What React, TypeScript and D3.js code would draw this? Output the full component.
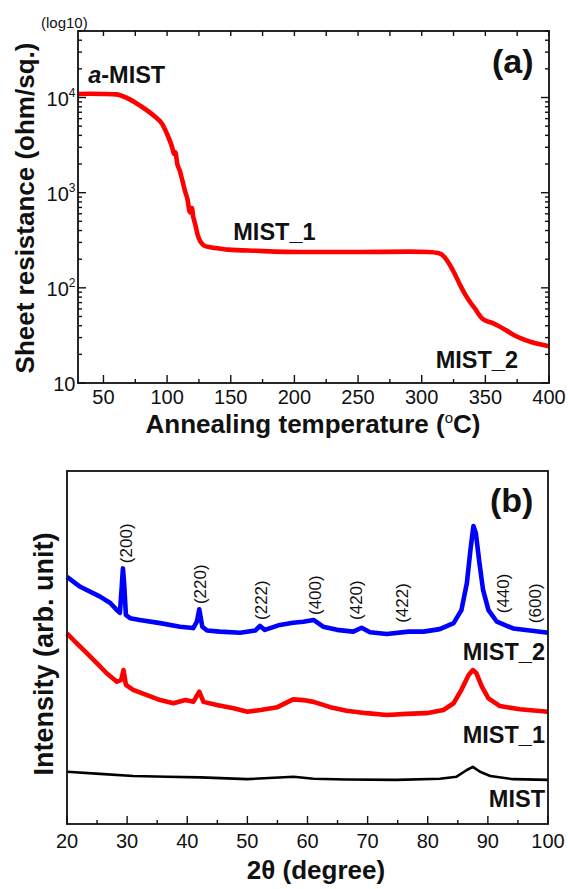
import React from "react";
import * as d3 from "d3";

const FONT = "'Liberation Sans', Arial, Helvetica, sans-serif";

// (a) sheet resistance vs annealing temperature
const tempC = [30, 40, 50, 60, 68.6, 79, 89.6, 96.2, 100, 104, 105.5, 106.5, 108, 110, 112, 114, 116, 118, 119.5, 120.5, 122, 124, 126, 128.8, 133, 137, 148, 170, 205, 250, 290, 305, 313, 318, 322, 326, 330, 334, 338, 342, 348, 355, 360, 366, 373, 386, 400];
const sheetRes = [10900, 10950, 10900, 10800, 9860, 8180, 6430, 5250, 4130, 2990, 2550, 2650, 2000, 1700, 1340, 1050, 850, 620, 690, 560, 470, 360, 310, 280, 268, 263, 252, 245, 238, 238, 240, 238, 232, 210, 175, 140, 108, 86, 71, 60, 47, 43, 40, 36, 31.6, 27, 24.4];
const tempTicks = [50, 100, 150, 200, 250, 300, 350, 400];
const resLabels = [
  { text: "a-MIST", t: 38, r: 14300 },
  { text: "MIST_1", t: 152, r: 318 },
  { text: "MIST_2", t: 311, r: 14.3 },
];

// (b) XRD patterns
const mist2Angle = [20, 22.2, 25.5, 27.2, 28.3, 28.8, 29.1, 29.3, 29.5, 29.8, 30.5, 32.1, 35.5, 38.8, 41, 41.6, 42, 42.5, 43.3, 45.4, 48.8, 51.3, 52.1, 52.9, 55.4, 57.6, 59.3, 61, 62.6, 64.9, 67.6, 69, 70.4, 73.2, 76.8, 79.3, 82, 84.3, 85.6, 86.5, 87.1, 87.6, 88, 88.6, 89.2, 90.1, 91.5, 94.2, 97, 100];
const mist2Intensity = [70.0, 67.2, 64.4, 62.6, 60.6, 59.8, 67.2, 72.4, 68.2, 59.2, 58.3, 57.8, 56.9, 55.9, 55.5, 57.3, 60.8, 55.9, 54.8, 54.5, 54.2, 54.8, 56.1, 55.0, 56.4, 57.0, 57.3, 57.8, 55.9, 55.0, 54.5, 55.6, 54.3, 53.8, 54.5, 54.5, 55.2, 56.9, 60.6, 68.2, 77.6, 84.4, 82.4, 73.9, 66.3, 60.6, 57.3, 55.4, 54.8, 54.2];

const mist1Angle = [20, 21.6, 23.3, 25, 26.6, 28.3, 29, 29.4, 29.8, 31, 33.3, 35.5, 37.7, 39.7, 41, 42, 42.7, 44.9, 47.7, 50, 52.2, 55, 57.6, 59.3, 61, 63.8, 66.5, 69.8, 73.2, 76.5, 79.8, 82.6, 84.3, 85.6, 86.8, 87.5, 88.1, 89, 90.1, 92, 95.3, 100];
const mist1Intensity = [54.0, 51.2, 48.4, 45.5, 42.7, 40.3, 40.8, 43.6, 39.4, 38.0, 36.5, 35.1, 34.2, 35.1, 34.6, 37.5, 34.6, 33.7, 32.8, 31.8, 32.3, 33.1, 35.3, 35.1, 34.6, 33.1, 32.1, 31.4, 30.9, 31.2, 31.4, 32.3, 34.2, 38.0, 42.2, 43.6, 42.7, 38.9, 35.6, 33.4, 32.5, 31.8];

const mistAngle = [20, 25.5, 31, 36.6, 42.2, 50, 57.7, 61, 66.5, 74.8, 82, 84.8, 86.5, 87.5, 88.7, 90.4, 94.2, 100];
const mistIntensity = [14.8, 14.2, 13.6, 13.4, 13.2, 12.7, 13.4, 12.8, 12.6, 12.5, 12.8, 13.4, 15.3, 16.2, 14.8, 13.6, 12.7, 12.5];

const angleTicks = [20, 30, 40, 50, 60, 70, 80, 90, 100];
const peakNames = ["(200)", "(220)", "(222)", "(400)", "(420)", "(422)", "(440)", "(600)"];
const peakAngles = [29.8, 42.2, 52.3, 61.2, 68.0, 75.8, 92.5, 97.9];
const peakLevels = [73.9, 62.3, 57.8, 59.2, 57.8, 57.0, 59.7, 56.9];

const sampleNames = ["MIST_2", "MIST_1", "MIST"];
const sampleLabelLevels = [46.5, 22.9, 4.9];

const zip = (xs: number[], ys: number[]) => xs.map((x, i) => [x, ys[i]] as [number, number]);

export default function App() {
  // panel (a)
  const xA = d3.scaleLinear().domain([30, 400]).range([78, 549]);
  const yA = d3.scaleLog().domain([10, 50000]).range([383, 31]);
  const lineA = d3
    .line<[number, number]>()
    .x((d) => xA(d[0]))
    .y((d) => yA(d[1]))
    .curve(d3.curveMonotoneX);
  const logTicks = yA.ticks();
  const isMajor = (v: number) => Math.abs(Math.log10(v) - Math.round(Math.log10(v))) < 1e-6;
  const minorTemps = d3.range(75, 400, 50);
  const topTemps = d3.range(50, 401, 25);

  // panel (b)
  const xB = d3.scaleLinear().domain([20, 100]).range([67, 548]);
  const yB = d3.scaleLinear().domain([0, 100]).range([824, 471]);
  const lineB = d3
    .line<[number, number]>()
    .x((d) => xB(d[0]))
    .y((d) => yB(d[1]));
  const minorAngles = d3.range(25, 100, 10);

  const series = [
    { data: zip(mist2Angle, mist2Intensity), color: "#0000ff", w: 4.6 },
    { data: zip(mist1Angle, mist1Intensity), color: "#ff0000", w: 4.6 },
    { data: zip(mistAngle, mistIntensity), color: "#000000", w: 2.6 },
  ];

  const ink = "#111";

  return (
    <svg
      width={568}
      height={889}
      style={{ position: "absolute", left: 0, top: 0, background: "#fff" }}
      fontFamily={FONT}
    >
      <rect width={568} height={889} fill="#fff" />

      {/* ---------- (a) ---------- */}
      <path d={lineA(zip(tempC, sheetRes)) || ""} fill="none" stroke="#ff0000" strokeWidth={4.6} strokeLinejoin="round" />

      {/* left / right log ticks */}
      {logTicks.map((v, i) => {
        const y = yA(v);
        const len = isMajor(v) ? 8 : 4;
        return (
          <g key={"lt" + i} stroke={ink} strokeWidth={1.4}>
            <line x1={78} x2={78 + len} y1={y} y2={y} />
            <line x1={549} x2={549 - len} y1={y} y2={y} />
          </g>
        );
      })}
      {/* bottom / top ticks */}
      {tempTicks.map((t) => (
        <line key={"bt" + t} x1={xA(t)} x2={xA(t)} y1={383} y2={375} stroke={ink} strokeWidth={1.4} />
      ))}
      {minorTemps.map((t) => (
        <line key={"bm" + t} x1={xA(t)} x2={xA(t)} y1={383} y2={379} stroke={ink} strokeWidth={1.4} />
      ))}
      {topTemps.map((t) => (
        <line key={"tt" + t} x1={xA(t)} x2={xA(t)} y1={31} y2={36} stroke={ink} strokeWidth={1.4} />
      ))}
      <rect x={78} y={31} width={471} height={352} fill="none" stroke={ink} strokeWidth={1.8} />

      {tempTicks.map((t) => (
        <text key={"tl" + t} x={xA(t)} y={404} textAnchor="middle" fontSize={20} fill={ink}>
          {t}
        </text>
      ))}
      {[1, 2, 3, 4].map((e) => (
        <text key={"yl" + e} x={75.5} y={yA(Math.pow(10, e)) + 8} textAnchor="end" fontSize={20} fill={ink}>
          10
          {e > 1 && (
            <tspan dy={-9} fontSize={12}>
              {e}
            </tspan>
          )}
        </text>
      ))}
      <text x={41} y={28} fontSize={15} fill={ink}>
        (log10)
      </text>
      <text x={313} y={433} textAnchor="middle" fontSize={26} fontWeight="bold" fill={ink}>
        Annealing temperature (
        <tspan dy={-10} fontSize={15} fontWeight="normal">o</tspan>
        <tspan dy={10}>C)</tspan>
      </text>
      <text transform="translate(34,208) rotate(-90)" textAnchor="middle" fontSize={26} fontWeight="bold" fill={ink}>
        Sheet resistance (ohm/sq.)
      </text>
      <text x={492} y={73} fontSize={34} fontWeight="bold" fill={ink}>
        (a)
      </text>
      {resLabels.map((l) => (
        <text key={l.text} x={xA(l.t)} y={yA(l.r)} fontSize={23.5} fontWeight="bold" fill={ink}>
          {l.text.startsWith("a-") ? (
            <>
              <tspan fontStyle="italic">a</tspan>
              {l.text.slice(1)}
            </>
          ) : (
            l.text
          )}
        </text>
      ))}

      {/* ---------- (b) ---------- */}
      <g>
        {series.map((s, i) => (
          <path key={"s" + i} d={lineB(s.data) || ""} fill="none" stroke={s.color} strokeWidth={s.w} strokeLinejoin="round" />
        ))}
      </g>
      {angleTicks.map((a) => (
        <line key={"ab" + a} x1={xB(a)} x2={xB(a)} y1={824} y2={816} stroke={ink} strokeWidth={1.4} />
      ))}
      {minorAngles.map((a) => (
        <line key={"am" + a} x1={xB(a)} x2={xB(a)} y1={824} y2={820} stroke={ink} strokeWidth={1.4} />
      ))}
      <rect x={67} y={471} width={481} height={353} fill="none" stroke={ink} strokeWidth={1.8} />
      {angleTicks.map((a) => (
        <text key={"al" + a} x={xB(a)} y={848} textAnchor="middle" fontSize={20} fill={ink}>
          {a}
        </text>
      ))}
      {peakNames.map((p, i) => (
        <text
          key={p}
          transform={`translate(${xB(peakAngles[i])},${yB(peakLevels[i])}) rotate(-90)`}
          dy="0.35em"
          fontSize={17}
          fill={ink}
        >
          {p}
        </text>
      ))}
      {sampleNames.map((n, i) => (
        <text key={n} x={545} y={yB(sampleLabelLevels[i])} textAnchor="end" fontSize={23.5} fontWeight="bold" fill={ink}>
          {n}
        </text>
      ))}
      <text x={490} y={512} fontSize={34} fontWeight="bold" fill={ink}>
        (b)
      </text>
      <text x={316} y={879} textAnchor="middle" fontSize={26} fontWeight="bold" fill={ink}>
        2θ (degree)
      </text>
      <text transform="translate(53,654) rotate(-90)" textAnchor="middle" fontSize={27} fontWeight="bold" fill={ink}>
        Intensity (arb. unit)
      </text>
    </svg>
  );
}
